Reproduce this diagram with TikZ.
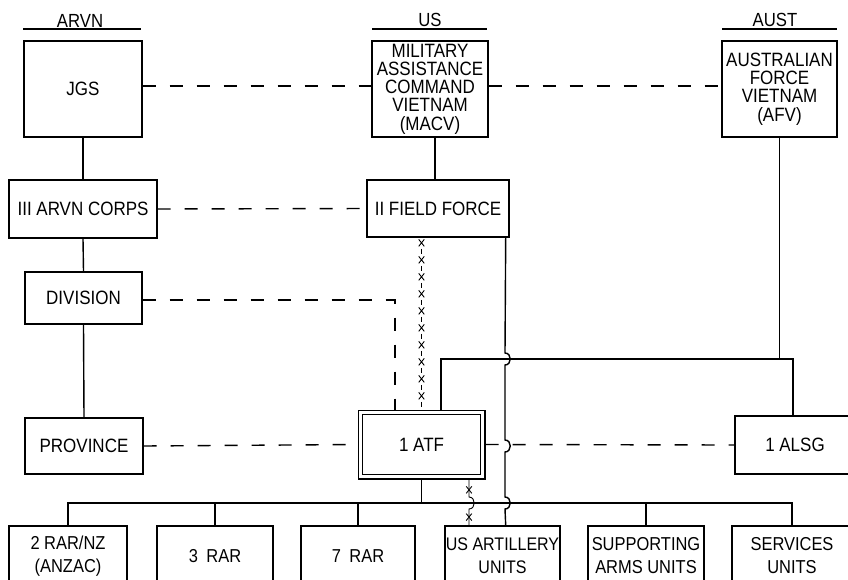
\documentclass[tikz,border=0pt]{standalone}
\usepackage{fontspec}
\setmainfont[FakeStretch=0.88]{Liberation Sans}
\usetikzlibrary{decorations.markings,calc}
\newcommand\xcross{\draw[line width=0.9pt,solid] (-3.5,-2.8) -- (3.5,2.8) (-3.5,2.8) -- (3.5,-2.8);}
\begin{document}
\begin{tikzpicture}[x=1pt,y=-1pt,line width=1.4pt,
  box/.style={draw, rectangle, inner sep=0pt, align=center, font=\fontsize{19.3}{18.3}\selectfont},
  lowbox/.style={box, minimum height=60pt, font=\fontsize{18.7}{23}\selectfont},
  hdr/.style={font=\fontsize{19}{20}\selectfont, inner sep=0pt},
  dashline/.style={dash pattern=on 13pt off 14pt},
  xxline/.style={decoration={markings,
      mark=between positions 0.03 and 0.99 step 17pt with {\xcross \draw[line width=1pt] (6,0) -- (11,0);}},
      postaction={decorate}},
  xxshort/.style={line width=0.9pt, decoration={markings,
      mark=at position 0.2 with {\xcross}, mark=at position 0.84 with {\xcross}},
      postaction={decorate}}]
\useasboundingbox (0,0) rectangle (848,579);
\clip (0,0) rectangle (848,579);

% headers
\node[hdr] (harvn) at (80,21) {ARVN};
\node[hdr] (hus) at (430,20) {US};
\node[hdr] (haust) at (775,20) {AUST};
\draw (23,29) -- (141,29);
\draw (372,29) -- (487,29);
\draw (722,29) -- (837,29);

% boxes
\node[box, minimum width=118pt, minimum height=96pt] (jgs) at (83,89) {JGS};
\node[box, minimum width=116pt, minimum height=96pt] (macv) at (430,89) {MILITARY\\ASSISTANCE\\COMMAND\\VIETNAM\\(MACV)};
\node[box, minimum width=115pt, minimum height=96pt] (afv) at (779.5,89) {AUSTRALIAN\\FORCE\\VIETNAM\\(AFV)};
\node[box, minimum width=148pt, minimum height=58pt] (corps) at (83,209) {III ARVN CORPS};
\node[box, minimum width=142pt, minimum height=57pt] (ff) at (438,208.5) {II FIELD FORCE};
\node[box, minimum width=117pt, minimum height=52pt] (div) at (83.5,298) {DIVISION};
\node[box, minimum width=118pt, minimum height=56pt] (prov) at (84,446) {PROVINCE};
\node[box, double, double distance=3.2pt, outer sep=2.8pt, line width=1.2pt, minimum width=122.4pt, minimum height=64.4pt] (atf) at (421.5,444.5) {1 ATF};
\node[box, minimum width=120pt, minimum height=58pt] (alsg) at (795,445) {1 ALSG};

\node[lowbox, minimum width=118pt] (rar2) at (68,556) {2 RAR/NZ\\(ANZAC)};
\node[lowbox, minimum width=116pt] (rar3) at (215,556) {3\hspace{0.45em}RAR};
\node[lowbox, minimum width=114pt] (rar7) at (358,556) {7\hspace{0.45em}RAR};
\node[lowbox, minimum width=115pt, font=\fontsize{18.2}{23}\selectfont] (usart) at (502.5,556) {US ARTILLERY\\UNITS};
\node[lowbox, minimum width=116pt] (supp) at (646,556) {SUPPORTING\\ARMS UNITS};
\node[lowbox, minimum width=120pt] (serv) at (792,556) {SERVICES\\UNITS};

% command (solid) lines
\draw (jgs.south) -- (corps.north);
\draw (corps.south) -- (div.north);
\draw (div.south) -- (prov.north);
\draw ([xshift=5pt]macv.south) -- ([xshift=5pt]macv.south |- ff.north);

% AFV to ATF / ALSG
\coordinate (hL) at (441,359);
\coordinate (hR) at (793,359);
\draw (afv.south) -- (afv.south |- hL);
\draw (atf.north -| hL) -- (hL) -- (hR) -- (alsg.north -| hR);

% bus to battalions and units
\coordinate (busY) at (0,503);
\draw (rar2.north) -- (rar2.north |- busY) -- (serv.north |- busY) -- (serv.north);
\draw (rar3.north) -- (rar3.north |- busY);
\draw (rar7.north) -- (rar7.north |- busY);
\draw (supp.north) -- (supp.north |- busY);
\draw (atf.south) -- (atf.south |- busY);

% dashed liaison lines
\draw[dashline] ([yshift=3pt]jgs.east) -- ([yshift=3pt]macv.west);
\draw[dashline] ([yshift=3pt]macv.east) -- ([yshift=3pt]afv.west);
\draw[dashline] (corps.east) -- (ff.west);
\draw[dashline] ([yshift=-2pt]div.east) -| ([xshift=-26.5pt]atf.north);
\draw[dashline] (prov.east) -- (atf.west);
\draw[dashline] (atf.east) -- (alsg.west);

% II FF to US artillery, with line jumps
\coordinate (ffr) at ([xshift=-4pt]ff.south east);
\draw (ffr) -- (505,353) .. controls (512,353) and (512,365) .. (505,365)
  -- (505,440) .. controls (512,440) and (512,452) .. (505,452)
  -- (505,497) .. controls (512,497) and (512,509) .. (505,509)
  -- (usart.north -| ffr);

% x-x lines
\path[xxline] (atf.north |- ff.south) -- (atf.north);
\coordinate (atfx) at ([xshift=47.5pt]atf.south);
\draw[xxshort] (atfx) -- (469,497) .. controls (476,497) and (476,509) .. (469,509) -- (usart.north -| atfx);
\end{tikzpicture}
\end{document}
